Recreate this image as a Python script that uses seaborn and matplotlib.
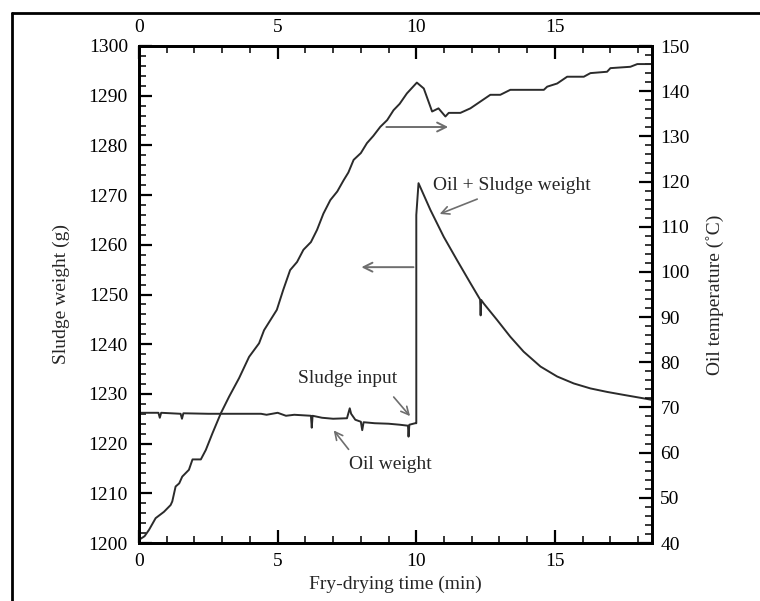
import matplotlib
matplotlib.use("Agg")
import matplotlib.pyplot as plt
import seaborn as sns
import pandas as pd
from matplotlib.ticker import MultipleLocator
from matplotlib.lines import Line2D

# ---------------- data ----------------
temp_time = [0, 0.2, 0.36, 0.6, 0.9, 1.14, 1.2, 1.32, 1.45, 1.56, 1.8, 1.93, 2.23, 2.41,
             2.65, 2.95, 3.25, 3.61, 3.97, 4.33, 4.51, 4.97, 5.2, 5.45, 5.7, 5.93, 6.2,
             6.42, 6.65, 6.9, 7.15, 7.38, 7.55, 7.74, 8.0, 8.22, 8.45, 8.7, 8.95, 9.18,
             9.4, 9.66, 10.02, 10.27, 10.57, 10.8, 11.05, 11.17, 11.59, 11.95, 12.31,
             12.67, 13.03, 13.39, 14.6, 14.72, 15.08, 15.44, 16.04, 16.28, 16.88, 17.0,
             17.72, 17.97, 18.5]
temp_value = [40.7, 41.5, 42.9, 45.5, 46.9, 48.4, 49.2, 52.5, 53.2, 54.7, 56.2, 58.5, 58.5,
              60.6, 64.3, 68.7, 72.4, 76.5, 81.2, 84.2, 87.1, 91.6, 96.0, 100.4, 102.2,
              104.9, 106.6, 109.3, 112.9, 115.9, 117.8, 120.3, 122.0, 124.8, 126.3, 128.5,
              130.1, 132.1, 133.6, 135.8, 137.2, 139.5, 141.9, 140.6, 135.5, 136.2, 134.4,
              135.2, 135.2, 136.2, 137.7, 139.2, 139.2, 140.3, 140.3, 141.0, 141.7, 143.2,
              143.2, 144.0, 144.3, 145.1, 145.4, 146.0, 146.0]

weight_time = [0, 0.5, 0.7, 0.75, 0.8, 1.5, 1.55, 1.6, 2.5, 3.5, 4.4, 4.6, 5.0, 5.3,
               5.6, 6.2, 6.23, 6.26, 6.6, 7.0, 7.5, 7.6, 7.65, 7.8, 8.0, 8.05, 8.1,
               8.5, 9.0, 9.4, 9.7, 9.72, 9.75, 9.96, 10.0, 10.0, 10.08, 10.51, 10.99,
               11.47, 11.95, 12.3, 12.32, 12.34, 12.43, 12.91, 13.39, 13.87, 14.48,
               15.08, 15.68, 16.28, 16.88, 17.48, 18.2, 18.5]
weight_value = [1226.2, 1226.2, 1226.2, 1225.2, 1226.2, 1226.0, 1225.0, 1226.1, 1226.0,
                1226.0, 1226.0, 1225.8, 1226.2, 1225.6, 1225.8, 1225.6, 1223.2, 1225.6,
                1225.2, 1225.0, 1225.1, 1227.1, 1226.0, 1224.8, 1224.4, 1222.7, 1224.3,
                1224.1, 1224.0, 1223.8, 1223.6, 1221.4, 1223.8, 1224.1, 1224.1, 1266.0,
                1272.4, 1267.0, 1261.6, 1256.9, 1252.3, 1249.0, 1245.8, 1248.9, 1248.2,
                1244.9, 1241.5, 1238.5, 1235.5, 1233.5, 1232.1, 1231.1, 1230.4, 1229.8,
                1229.1, 1228.8]

x_ticks = [0, 5, 10, 15]
w_ticks = [1200, 1210, 1220, 1230, 1240, 1250, 1260, 1270, 1280, 1290, 1300]
t_ticks = [40, 50, 60, 70, 80, 90, 100, 110, 120, 130, 140, 150]

wdf = pd.DataFrame({"time": weight_time, "weight": weight_value})
tdf = pd.DataFrame({"time": temp_time, "temp": temp_value})

# ---------------- style ----------------
sns.set_style("ticks")
plt.rcParams["font.family"] = ["Liberation Serif", "DejaVu Serif"]
plt.rcParams["font.size"] = 14

fig = plt.figure(figsize=(7.6, 6.01), dpi=100)
ax = fig.add_axes([139 / 760, 1 - 543 / 601, 513 / 760, 497 / 601])
ax2 = ax.twinx()

line_c = "#2b2b2b"
sns.lineplot(data=wdf, x="time", y="weight", ax=ax, sort=False, estimator=None,
             color=line_c, lw=1.4)
sns.lineplot(data=tdf, x="time", y="temp", ax=ax2, sort=False, estimator=None,
             color=line_c, lw=1.4)

ax.set_xlim(0, 18.5)
ax.set_ylim(1200, 1300)
ax2.set_ylim(40, 150)
ax.set_xticks(x_ticks)
ax.set_yticks(w_ticks)
ax2.set_yticks(t_ticks)
ax.xaxis.set_minor_locator(MultipleLocator(1))
ax.yaxis.set_minor_locator(MultipleLocator(2))
ax2.yaxis.set_minor_locator(MultipleLocator(2))

ax.tick_params(axis="x", which="both", direction="in", top=True, bottom=True,
               labeltop=True, labelsize=14, pad=7, colors="black")
ax.tick_params(axis="y", which="both", direction="in", left=True, right=False,
               labelsize=14, pad=8, colors="black")
ax2.tick_params(axis="y", which="both", direction="in", right=True, left=False,
                labelsize=14, pad=6, colors="black")
for a in (ax, ax2):
    a.tick_params(which="major", length=9.5, width=1.6)
    a.tick_params(which="minor", length=5, width=1.1)
    for s in a.spines.values():
        s.set_linewidth(2)
        s.set_color("black")

ax.set_xlabel("Fry-drying time (min)", fontsize=14)
ax.set_ylabel("Sludge weight (g)", fontsize=14)
ax2.set_ylabel("Oil temperature (˚C)", fontsize=14)
ax.xaxis.set_label_coords(0.5, -0.066)
ax.yaxis.set_label_coords(-0.1345, 0.5)
ax2.yaxis.set_label_coords(1.105, 0.5)

# ---------------- annotations ----------------
arrow_c = "#6e6e6e"
ax.annotate("", xy=(11.25, 1283.7), xytext=(8.82, 1283.7),
            arrowprops=dict(arrowstyle="->", color=arrow_c, lw=1.4, mutation_scale=16))
ax.annotate("", xy=(7.92, 1255.5), xytext=(10.0, 1255.5),
            arrowprops=dict(arrowstyle="->", color=arrow_c, lw=1.4, mutation_scale=16))
ax.annotate("", xy=(10.75, 1266.0), xytext=(12.29, 1269.4),
            arrowprops=dict(arrowstyle="->", color=arrow_c, lw=1.2, mutation_scale=14))
ax.annotate("", xy=(9.84, 1225.1), xytext=(9.12, 1229.8),
            arrowprops=dict(arrowstyle="->", color=arrow_c, lw=1.2, mutation_scale=14))
ax.annotate("", xy=(6.96, 1223.1), xytext=(7.62, 1218.4),
            arrowprops=dict(arrowstyle="->", color=arrow_c, lw=1.2, mutation_scale=14))

ax.text(10.62, 1271.9, "Oil + Sludge weight", ha="left", va="center", fontsize=14)
ax.text(5.74, 1233.0, "Sludge input", ha="left", va="center", fontsize=14)
ax.text(7.56, 1215.7, "Oil weight", ha="left", va="center", fontsize=14)

# outer frame
fig.add_artist(Line2D([12 / 760, 1.0], [1 - 13 / 601] * 2, transform=fig.transFigure,
                      color="black", lw=2))
fig.add_artist(Line2D([12 / 760] * 2, [0.0, 1 - 13 / 601], transform=fig.transFigure,
                      color="black", lw=2))

fig.savefig("out.png", dpi=100)
